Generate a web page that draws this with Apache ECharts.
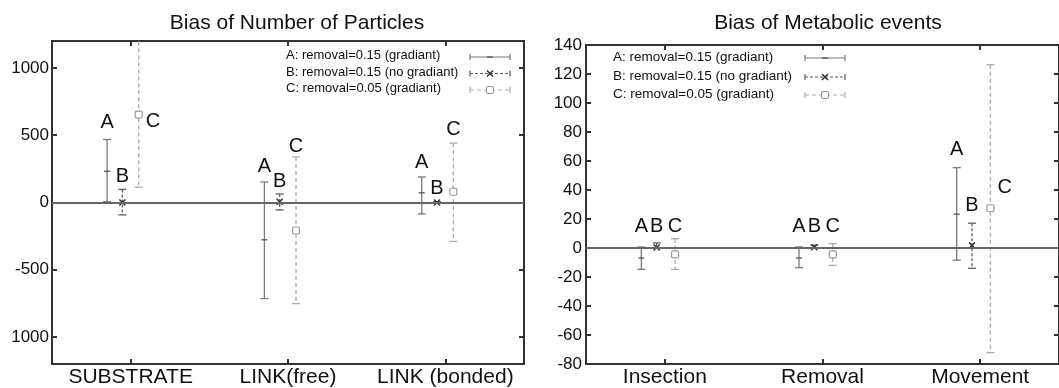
<!DOCTYPE html>
<html>
<head>
<meta charset="utf-8">
<script src="https://cdn.jsdelivr.net/npm/echarts@6/dist/echarts.min.js"></script>
<style>
html,body{margin:0;padding:0;background:#fff}
#chart{width:1059px;height:388px}
</style>
</head>
<body>
<div id="chart"></div>
<script>
// categories
var catsL = ['SUBSTRATE', 'LINK(free)', 'LINK (bonded)'];
var catsR = ['Insection', 'Removal', 'Movement'];
var legendNames = ['A: removal=0.15 (gradiant)', 'B: removal=0.15 (no gradiant)', 'C: removal=0.05 (gradiant)'];
var groupTags = ['A', 'B', 'C'];

// left panel: [mean, low, high] per category
var partA = [[232, 6, 468], [-277, -714, 153], [72, -85, 190]];
var partB = [[0, -92, 97], [6, -55, 63], [0, -6, 6]];
var partC = [[653, 114, 1250], [-208, -751, 338], [80, -289, 441]];
// where the A/B/C letters sit (data units)
var partTagA = [596, 264, 294];
var partTagB = [196, 153, 105];
var partTagC = [601, 419, 540];

// right panel: [mean, low, high] per category
var metaA = [[-6.9, -14.7, 0.7], [-6.9, -13.6, 0.7], [23.3, -8.4, 55.4]];
var metaB = [[0.3, 0, 3.5], [0.5, 0, 2], [1.8, -14, 17.1]];
var metaC = [[-4.4, -14.7, 6.4], [-4.4, -12, 3], [27.4, -72.1, 126.4]];
var metaTagA = [14.6, 14.6, 67.7];
var metaTagB = [14.6, 14.6, 29];
var metaTagC = [14.6, 14.6, 42];

var yTicksL = [-1000, -500, 0, 500, 1000];

var FONT = '"Liberation Sans", Arial, sans-serif';
var INK = '#111';
var FRAME = '#333';

var looks = [
	{color: '#7a7a7a', dash: null, mark: 'plus'},
	{color: '#5e5e5e', dash: [3, 2], mark: 'cross'},
	{color: '#ababab', dash: [4, 3], mark: 'square'}
];

function toRows(arr, tags) {
	var rows = [];
	for (var i = 0; i < arr.length; i++) {
		rows.push([i, arr[i][0], arr[i][1], arr[i][2], tags[i]]);
	}
	return rows;
}

function markShape(kind, x, y, color) {
	if (kind == 'plus') {
		return [{type: 'line', shape: {x1: x - 3, y1: y, x2: x + 3, y2: y}, style: {stroke: '#555', lineWidth: 1.3}}];
	}
	if (kind == 'cross') {
		return [
			{type: 'line', shape: {x1: x - 3, y1: y - 3, x2: x + 3, y2: y + 3}, style: {stroke: '#333', lineWidth: 1.5}},
			{type: 'line', shape: {x1: x - 3, y1: y + 3, x2: x + 3, y2: y - 3}, style: {stroke: '#333', lineWidth: 1.5}}
		];
	}
	return [{type: 'rect', shape: {x: x - 3.5, y: y - 3.5, width: 7, height: 7, r: 1.5}, style: {stroke: '#999', fill: '#fff', lineWidth: 1.2}}];
}

// error bar with letter tag
function errRender(off, g) {
	return function (params, api) {
		var ci = api.value(0);
		var band = api.size([1, 0])[0];
		var pm = api.coord([ci, api.value(1)]);
		var pl = api.coord([ci, api.value(2)]);
		var ph = api.coord([ci, api.value(3)]);
		var pt = api.coord([ci, api.value(4)]);
		var x = pm[0] + off * band;
		var lk = looks[g];
		var kids = [
			{type: 'line', shape: {x1: x, y1: ph[1], x2: x, y2: pl[1]}, style: {stroke: lk.color, lineWidth: 1.3, lineDash: lk.dash}},
			{type: 'line', shape: {x1: x - 4, y1: ph[1], x2: x + 4, y2: ph[1]}, style: {stroke: lk.color, lineWidth: 1.3}},
			{type: 'line', shape: {x1: x - 4, y1: pl[1], x2: x + 4, y2: pl[1]}, style: {stroke: lk.color, lineWidth: 1.3}}
		];
		kids = kids.concat(markShape(lk.mark, x, pm[1], lk.color));
		// tag goes to the right when it sits below the bar top
		var side = api.value(4) < api.value(3);
		kids.push({
			type: 'text',
			style: {
				text: groupTags[g], x: side ? x + 7 : x, y: pt[1],
				fill: INK, fontSize: 20, fontFamily: FONT,
				align: side ? 'left' : 'center', verticalAlign: 'middle'
			}
		});
		return {type: 'group', children: kids};
	};
}

function legendBits(x0, ys, sx1, sx2, size) {
	var out = [];
	for (var i = 0; i < 3; i++) {
		var y = ys[i];
		var lk = looks[i];
		var mid = (sx1 + sx2) / 2;
		out.push({type: 'text', left: x0, top: y - size * 0.6,
			style: {text: legendNames[i], fill: INK, fontSize: size, fontFamily: FONT}});
		var kids = [
			{type: 'line', shape: {x1: sx1, y1: y, x2: sx2, y2: y}, style: {stroke: lk.color, lineWidth: 1.2, lineDash: lk.dash}},
			{type: 'line', shape: {x1: sx1, y1: y - 3, x2: sx1, y2: y + 3}, style: {stroke: lk.color, lineWidth: 1.2}},
			{type: 'line', shape: {x1: sx2, y1: y - 3, x2: sx2, y2: y + 3}, style: {stroke: lk.color, lineWidth: 1.2}}
		];
		kids = kids.concat(markShape(lk.mark, mid, y, lk.color));
		out.push({type: 'group', children: kids});
	}
	return out;
}

var zeroLine = {
	silent: true, symbol: 'none', label: {show: false},
	lineStyle: {color: '#666', width: 2, type: 'solid'},
	data: [{yAxis: 0}]
};

function catAxis(gi, cats, pos) {
	return {
		gridIndex: gi, type: 'category', data: cats, position: pos,
		axisLine: {show: true, onZero: false, lineStyle: {color: FRAME, width: 2}},
		axisTick: {show: true, inside: true, alignWithLabel: true, length: 5, lineStyle: {color: FRAME, width: 2}},
		axisLabel: {show: pos == 'bottom', interval: 0, hideOverlap: false, fontSize: 21, color: INK, fontFamily: FONT, margin: 3},
		splitLine: {show: false}
	};
}

function valAxis(gi, pos, extra) {
	var ax = {
		gridIndex: gi, type: 'value', position: pos,
		axisLine: {show: true, onZero: false, lineStyle: {color: FRAME, width: 2}},
		axisTick: {show: true, inside: true, length: 5, lineStyle: {color: FRAME, width: 2}},
		axisLabel: {show: pos == 'left', fontSize: 17, color: INK, fontFamily: FONT, margin: 4},
		splitLine: {show: false}
	};
	for (var k in extra) ax[k] = extra[k];
	return ax;
}

var yl = valAxis(0, 'left', {min: -1200, max: 1200});
yl.axisTick.customValues = yTicksL;
yl.axisLabel.customValues = yTicksL;
yl.axisLabel.margin = 3;
yl.axisLabel.formatter = function (v) { return v == -1000 ? '1000' : String(v); };
var yl2 = valAxis(0, 'right', {min: -1200, max: 1200});
yl2.axisTick.customValues = yTicksL;

var offsL = [-0.15, -0.053, 0.051];
var offsR = [-0.149, -0.052, 0.065];

var option = {
	backgroundColor: '#fff',
	animation: false,
	title: [
		{text: 'Bias of Number of Particles', left: 292, top: 8, textAlign: 'center',
			textStyle: {fontSize: 21, fontWeight: 'normal', color: INK, fontFamily: FONT}},
		{text: 'Bias of Metabolic events', left: 823, top: 8, textAlign: 'center',
			textStyle: {fontSize: 21, fontWeight: 'normal', color: INK, fontFamily: FONT}}
	],
	grid: [
		{left: 52, top: 41, width: 472, height: 325, show: true, borderColor: FRAME, borderWidth: 2, backgroundColor: '#fff'},
		{left: 586, top: 45, width: 483, height: 322, show: true, borderColor: FRAME, borderWidth: 2, backgroundColor: '#fff'}
	],
	xAxis: [
		catAxis(0, catsL, 'bottom'),
		catAxis(0, catsL, 'top'),
		catAxis(1, catsR, 'bottom'),
		catAxis(1, catsR, 'top')
	],
	yAxis: [
		yl,
		yl2,
		valAxis(1, 'left', {min: -80, max: 140, interval: 20}),
		valAxis(1, 'right', {min: -80, max: 140, interval: 20})
	],
	graphic: legendBits(286, [57, 73.5, 90], 470, 510, 13).concat(legendBits(613, [58, 77, 95], 805, 845, 13.5)),
	series: [
		{type: 'custom', name: 'A', xAxisIndex: 0, yAxisIndex: 0, clip: true, renderItem: errRender(offsL[0], 0), data: toRows(partA, partTagA), markLine: zeroLine},
		{type: 'custom', name: 'B', xAxisIndex: 0, yAxisIndex: 0, clip: true, renderItem: errRender(offsL[1], 1), data: toRows(partB, partTagB)},
		{type: 'custom', name: 'C', xAxisIndex: 0, yAxisIndex: 0, clip: true, renderItem: errRender(offsL[2], 2), data: toRows(partC, partTagC)},
		{type: 'custom', name: 'A', xAxisIndex: 2, yAxisIndex: 2, clip: true, renderItem: errRender(offsR[0], 0), data: toRows(metaA, metaTagA), markLine: zeroLine},
		{type: 'custom', name: 'B', xAxisIndex: 2, yAxisIndex: 2, clip: true, renderItem: errRender(offsR[1], 1), data: toRows(metaB, metaTagB)},
		{type: 'custom', name: 'C', xAxisIndex: 2, yAxisIndex: 2, clip: true, renderItem: errRender(offsR[2], 2), data: toRows(metaC, metaTagC)}
	]
};

var myChart = echarts.init(document.getElementById('chart'));
myChart.setOption(option);
</script>
</body>
</html>
